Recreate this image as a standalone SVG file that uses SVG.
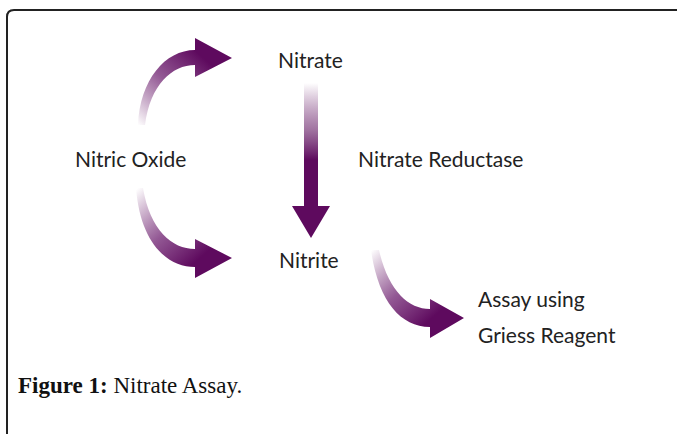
<svg xmlns="http://www.w3.org/2000/svg" width="678" height="434" viewBox="0 0 678 434">
<style>
.lbl{font-family:Lato,"Open Sans","Liberation Sans",sans-serif;font-size:21px;fill:#222}
.cap{font-family:"Liberation Serif","DejaVu Serif",serif;font-size:23px;fill:#111}
.frame{fill:none;stroke:#222;stroke-width:2}
</style>
<defs>
<linearGradient id="gTop" gradientUnits="userSpaceOnUse" x1="138" y1="125" x2="200" y2="55">
<stop offset="0" stop-color="#5e0a5e" stop-opacity="0"/>
<stop offset="0.55" stop-color="#6e2070" stop-opacity="0.75"/>
<stop offset="1" stop-color="#5e0a5e"/>
</linearGradient>
<linearGradient id="gBot" gradientUnits="userSpaceOnUse" x1="138" y1="188" x2="200" y2="258">
<stop offset="0" stop-color="#5e0a5e" stop-opacity="0"/>
<stop offset="0.55" stop-color="#6e2070" stop-opacity="0.75"/>
<stop offset="1" stop-color="#5e0a5e"/>
</linearGradient>
<linearGradient id="gV" gradientUnits="userSpaceOnUse" x1="0" y1="83" x2="0" y2="160">
<stop offset="0" stop-color="#5e0a5e" stop-opacity="0"/>
<stop offset="0.6" stop-color="#7a3a7a" stop-opacity="0.7"/>
<stop offset="1" stop-color="#5e0a5e"/>
</linearGradient>
<linearGradient id="gG" gradientUnits="userSpaceOnUse" x1="372" y1="250" x2="432" y2="318">
<stop offset="0" stop-color="#5e0a5e" stop-opacity="0"/>
<stop offset="0.55" stop-color="#6e2070" stop-opacity="0.75"/>
<stop offset="1" stop-color="#5e0a5e"/>
</linearGradient>
</defs>
<path class="frame" d="M7,434 V17 Q7,10 14,10 H677"/>
<g id="connectors">
<path d="M138,125 C140,80 165,50 195,50 L195,38 L232,58 L195,77 L195,65 C172,65 150,85 145,125 Z" fill="url(#gTop)"/>
<path d="M136,188 C140,240 165,267 195,267 L195,278 L232,258 L195,239 L195,249 C172,249 150,230 143,188 Z" fill="url(#gBot)"/>
<path d="M304,83 H318 V206 H330 L311,238 L292,206 H304 Z" fill="url(#gV)"/>
<path d="M371,250 C378,300 400,327 430,327 L430,338 L464,318 L430,299 L430,309 C408,309 388,290 379,250 Z" fill="url(#gG)"/>
</g>
<g id="nitrate"><text class="lbl" x="278" y="68">Nitrate</text></g>
<g id="nitric-oxide"><text class="lbl" x="75" y="167">Nitric Oxide</text></g>
<g id="reductase"><text class="lbl" x="358" y="167">Nitrate Reductase</text></g>
<g id="nitrite"><text class="lbl" x="279" y="268">Nitrite</text></g>
<g id="griess"><text class="lbl" x="478" y="307">Assay using</text><text class="lbl" x="478" y="343">Griess Reagent</text></g>
<g id="caption"><text class="cap" x="18" y="393"><tspan font-weight="bold">Figure 1:</tspan> Nitrate Assay.</text></g>
</svg>
